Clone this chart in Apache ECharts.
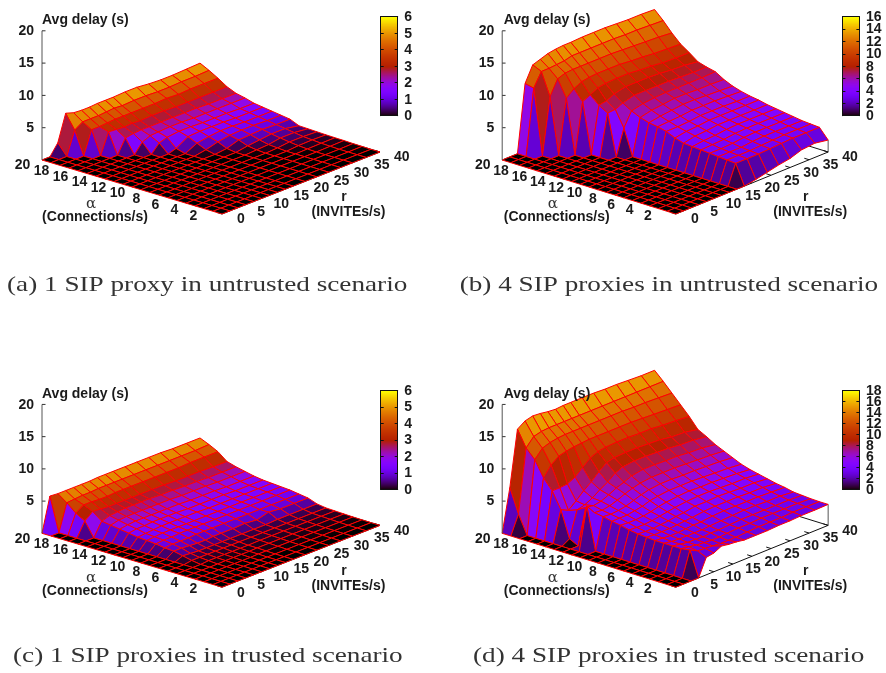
<!DOCTYPE html>
<html><head><meta charset="utf-8">
<script src="https://cdn.jsdelivr.net/npm/echarts@6/dist/echarts.min.js"></script>
<style>html,body{margin:0;padding:0;background:#fff}#c{width:886px;height:673px}</style></head>
<body><div id="c"></div>
<script>
const rValues = [0,2,4,6,8,10,12,14,16,18,21,24,27,30,33,36.5,40];
const alphaValues = [20,19,18,17,16,15,14,13,12,11,10,9,8,7,6,5,4,3,2,1,0];
// rows follow alphaValues; columns follow rValues
const surfaceA = [
[0,0,1.7,5.8,5.4,5.3,5.3,5.4,5.4,5.4,5.5,5.5,5.3,5.2,5.2,5.3,5.4],
[0,0,0,3.6,4.4,4.4,4.4,4.5,4.6,4.5,4.6,4.6,4.5,4.5,4.6,4.6,4.7],
[0,0,0,0,3.6,3.6,3.7,3.8,3.8,3.8,3.8,3.8,3.9,3.8,3.9,3.9,3.9],
[0,0,0,0,0,3.2,3.1,3.0,3.1,3.0,3.1,3.1,3.0,3.0,3.0,3.0,3.0],
[0,0,0,0,0,0,2.2,2.4,2.5,2.5,2.5,2.5,2.5,2.5,2.4,2.4,2.4],
[0,0,0,0,0,0,0,1.5,2.0,2.1,2.2,2.2,2.1,2.1,2.1,2.1,2.1],
[0,0,0,0,0,0,0,0,1.3,1.7,1.9,1.9,1.8,1.8,1.8,1.7,1.7],
[0,0,0,0,0,0,0,0,0,.4,1.5,1.6,1.6,1.6,1.5,1.5,1.5],
[0,0,0,0,0,0,0,0,0,0,.9,1.2,1.4,1.4,1.3,1.3,1.3],
[0,0,0,0,0,0,0,0,0,0,.3,.8,1.1,1.2,1.2,1.1,1.1],
[0,0,0,0,0,0,0,0,0,0,0,.2,.8,.9,1.0,.9,.9],
[0,0,0,0,0,0,0,0,0,0,0,0,.3,.5,.7,.7,.3],
[0,0,0,0,0,0,0,0,0,0,0,0,.1,.2,.5,.5,.25],
[0,0,0,0,0,0,0,0,0,0,0,0,0,.1,.3,.3,.2],
[0,0,0,0,0,0,0,0,0,0,0,0,0,0,.15,.2,.15],
[0,0,0,0,0,0,0,0,0,0,0,0,0,0,.05,.1,.12],
[0,0,0,0,0,0,0,0,0,0,0,0,0,0,0,.05,.1],
[0,0,0,0,0,0,0,0,0,0,0,0,0,0,0,0,.05],
[0,0,0,0,0,0,0,0,0,0,0,0,0,0,0,0,.03],
[0,0,0,0,0,0,0,0,0,0,0,0,0,0,0,0,0],
[0,0,0,0,0,0,0,0,0,0,0,0,0,0,0,0,0]];
const surfaceB = [
[0,0,0,10.4,12.8,13.2,13.6,13.8,13.9,13.9,14,14,14,13.9,13.8,13.8,13.7],
[0,0,0,10.1,12.2,12.2,12.3,12.4,12.7,12.7,12.7,12.7,12.7,12.6,12.6,12.5,12.4],
[0,0,0,0,8.7,11,11.4,11.5,11.5,11.5,11.5,11.5,11.4,11.3,11.2,11.1,10.9],
[0,0,0,0,0,8.4,9.4,10,10.2,10.3,10.3,10.3,10.1,10,9.8,9.7,9.6],
[0,0,0,0,0,0,7.8,8.4,9,9.2,9.3,9.3,9.1,9,8.8,8.7,8.7],
[0,0,0,0,0,0,0,7.2,7.4,8,8.4,8.4,8.4,8.3,8.1,8,7.7],
[0,0,0,0,0,0,0,6.4,6.5,7,7.5,7.5,7.5,7.5,7.4,7.3,7.3],
[0,0,0,0,0,0,0,0,4.0,6.2,6.6,6.8,6.9,6.9,6.9,6.9,7],
[0,0,0,0,0,0,0,0,0,5.6,6,6.2,6.4,6.4,6.3,6.3,6.2],
[0,0,0,0,0,0,0,0,0,5.2,5.5,5.7,5.9,5.9,5.8,5.7,5.6],
[0,0,0,0,0,0,0,0,0,5.0,5.1,5.2,5.4,5.4,5.4,5.3,5.2],
[0,0,0,0,0,0,0,0,0,4.7,4.7,4.8,5,5,5,4.9,4.9],
[0,0,0,0,0,0,0,0,0,4.1,4.4,4.5,4.7,4.7,4.7,4.7,4.7],
[0,0,0,0,0,0,0,0,0,3.7,4.1,4.2,4.4,4.4,4.4,4.4,4.4],
[0,0,0,0,0,0,0,0,0,3.6,3.8,3.9,4.1,4.2,4.2,4.2,4.2],
[0,0,0,0,0,0,0,0,0,3.5,3.6,3.7,3.9,4,4,4,4],
[0,0,0,0,0,0,0,0,0,3.4,3.4,3.5,3.7,3.8,3.8,3.8,3.8],
[0,0,0,0,0,0,0,0,0,3.3,3.3,3.3,3.5,3.6,3.6,3.6,3.6],
[0,0,0,0,0,0,0,0,0,3.2,3.2,3.2,3.3,3.4,3.5,3.5,3.5],
[0,0,0,0,0,0,0,0,0,3.1,3.1,3.1,3.2,3.3,3.4,3.4,3.4],
[0,0,0,0,0,0,0,0,0,0,.3,.7,1.1,1.4,2.0,2.2,1.85]];
const surfaceC = [
[0,5.3,5.2,5.2,5.2,5.2,5.2,5.3,5.3,5.3,5.3,5.3,5.3,5.3,5.2,5.2,5.2],
[0,0,4.2,4.3,4.4,4.4,4.5,4.5,4.5,4.5,4.5,4.5,4.5,4.5,4.5,4.5,4.6],
[0,0,3.0,3.8,3.8,3.7,3.7,3.8,3.8,3.8,3.8,3.8,3.8,3.8,3.9,3.9,3.9],
[0,0,2.2,3.2,3.1,3.0,3.0,3.0,3.0,3.0,3.0,3.0,2.9,2.9,2.9,2.8,2.8],
[0,0,0,2.1,2.5,2.6,2.7,2.7,2.7,2.7,2.6,2.6,2.5,2.5,2.4,2.4,2.4],
[0,0,0,1.9,2.2,2.3,2.3,2.3,2.3,2.3,2.3,2.2,2.2,2.2,2.1,2.1,2.1],
[0,0,0,1.7,1.9,2,2,2,2,2,2,1.9,1.9,1.9,1.8,1.8,1.8],
[0,0,0,1.5,1.7,1.7,1.8,1.8,1.8,1.8,1.7,1.7,1.7,1.7,1.6,1.6,1.6],
[0,0,0,1.3,1.4,1.5,1.6,1.6,1.6,1.6,1.6,1.5,1.5,1.5,1.5,1.5,1.5],
[0,0,0,1.2,1.3,1.4,1.4,1.4,1.4,1.4,1.4,1.4,1.4,1.4,1.4,1.4,1.4],
[0,0,0,1.1,1.2,1.2,1.3,1.3,1.3,1.3,1.3,1.3,1.3,1.3,1.3,1.3,1.3],
[0,0,0,.9,1,1,1,1.1,1.1,1.1,1.1,1.1,1.1,1.1,1.1,1.1,1.1],
[0,0,0,.8,.8,.7,.6,.6,.7,.7,.7,.8,.6,1.1,.9,.9,.9],
[0,0,0,.5,.4,.3,.3,.3,.3,.3,.3,.3,.3,.4,.4,.4,.4],
[0,0,0,.2,.2,.2,.2,.2,.2,.2,.2,.2,.2,.2,.2,.2,.2],
[0,0,0,0,.1,.1,.1,.1,.1,.1,.15,.15,.15,.15,.15,.15,.15],
[0,0,0,0,0,.05,.05,.05,.05,.1,.1,.1,.1,.1,.1,.1,.1],
[0,0,0,0,0,0,0,0,.05,.05,.05,.05,.05,.05,.05,.05,.05],
[0,0,0,0,0,0,0,0,0,0,0,.02,.02,.02,.02,.02,.02],
[0,0,0,0,0,0,0,0,0,0,0,0,0,0,0,0,0],
[0,0,0,0,0,0,0,0,0,0,0,0,0,0,0,0,0]];
const surfaceD = [
[0,6.6,15.2,16,16.3,16.2,16,15.9,16,16,16,16,15.9,15.9,15.8,15.7,15.7],
[0,2.9,12.7,14,14.3,14.4,14.4,14.4,14.4,14.4,14.4,14.4,14.4,14.4,14.4,14.4,14.4],
[0,0,11.3,12.6,13,13.2,13.3,13.3,13.3,13.3,13.3,13.3,13.3,13.2,13.2,13.1,13],
[0,0,8.9,10.4,11.3,11.6,11.8,11.9,12,12,12,12,12,11.9,11.8,11.7,11.6],
[0,0,7.3,7.3,7.4,8,9,10,10.5,10.7,10.8,10.8,10.7,10.7,10.5,10.4,10.2],
[0,0,4.8,4.2,5.2,6.3,7.2,8.3,9.2,9.5,9.6,9.6,9.5,9.4,9.1,9,8.6],
[0,0,.7,4.7,5,5.6,6.4,7.1,8,8.5,8.7,8.7,8.6,8.5,8.3,8.2,7.9],
[0,0,0,5.5,5.3,5.5,6,6.6,7,7.5,7.8,7.8,7.7,7.7,7.5,7.4,7.1],
[0,0,6.6,5.1,5,5.2,5.6,6.1,6.5,6.8,7,7,7,6.9,6.8,6.7,6.5],
[0,0,0,4.9,4.8,4.9,5.1,5.5,5.9,6.2,6.4,6.4,6.3,6.3,6.2,6.1,5.9],
[0,0,0,4.6,4.6,4.6,4.8,5,5.4,5.6,5.8,5.8,5.8,5.7,5.6,5.5,5.3],
[0,0,0,4.4,4.3,4.3,4.4,4.6,4.9,5.1,5.3,5.4,5.3,5.3,5.2,5.1,4.9],
[0,0,0,4.1,4,4,4.1,4.3,4.5,4.7,4.9,5,5,4.9,4.8,4.8,4.6],
[0,0,0,3.9,3.8,3.8,3.9,4,4.2,4.3,4.6,4.6,4.7,4.6,4.5,4.5,4.3],
[0,0,0,3.8,3.7,3.7,3.7,3.8,3.9,4,4.2,4.3,4.3,4.3,4.2,4.2,4],
[0,0,0,3.7,3.6,3.5,3.5,3.6,3.7,3.7,3.9,4,4,4,4,3.9,3.8],
[0,0,0,3.7,3.5,3.4,3.4,3.4,3.4,3.5,3.6,3.7,3.8,3.8,3.7,3.7,3.5],
[0,0,0,3.7,3.5,3.3,3.3,3.2,3.3,3.3,3.4,3.5,3.5,3.5,3.5,3.5,3.4],
[0,0,0,3.7,3.5,3.3,3.2,3.1,3.1,3.2,3.3,3.3,3.4,3.4,3.4,3.4,3.3],
[0,0,0,3.9,3.3,3.2,3.1,3,3,3,3.1,3.2,3.2,3.2,3.3,3.3,3.25],
[0,0,0,0,2.7,2.9,3.5,3.3,3.2,3,3,3,3.1,3.1,3.2,3.2,3.25]];

const zTicks = [5,10,15,20];
const alphaTicks = [2,4,6,8,10,12,14,16,18,20];
const rTicks = [0,5,10,15,20,25,30,35,40];
const colorTicksA = [0,1,2,3,4,5,6];
const colorTicksB = [0,2,4,6,8,10,12,14,16];
const colorTicksC = [0,1,2,3,4,5,6];
const colorTicksD = [0,2,4,6,8,10,12,14,16,18];
const colorTicks = [colorTicksA,colorTicksB,colorTicksC,colorTicksD];
const colorMax = [6,16,6,18];
const colorStep = [1,2,1,2];
const captions = [
 '(a) 1 SIP proxy in untrusted scenario',
 '(b) 4 SIP proxies in untrusted scenario',
 '(c) 1 SIP proxies in trusted scenario',
 '(d) 4 SIP proxies in trusted scenario'];
const captionX = [7,459.7,13,473];
const surfaces = [surfaceA,surfaceB,surfaceC,surfaceD];

const offX = [0,461.7,0,461.7], offY = [0,0,373.7,373.7];
const BOLD = 'bold 14px "Liberation Sans", Arial, sans-serif';
const TXT = '#1a1a1a';

function project(alpha, r, z){
  return [222 - 9*alpha + 3.95*r, 214 - 2.7*alpha - 1.55*r - 6.46*z];
}
function palette(x){
  x = Math.max(0, Math.min(1, x));
  const R = Math.sqrt(x), G = x*x*x, B = Math.max(0, Math.sin(2*Math.PI*x));
  return 'rgb(' + Math.round(R*255) + ',' + Math.round(G*255) + ',' + Math.round(B*255) + ')';
}
const depth = (alpha, r) => 2.7*alpha + 1.55*r;

const grid = [], xAxis = [], yAxis = [], series = [], graphic = [];

surfaces.forEach((surface, p) => {
  const gi = grid.length;
  const nRow = alphaValues.length, nCol = rValues.length;
  grid.push({left: offX[p], top: offY[p], width: 440, height: 300, show: false});
  xAxis.push({type:'value', gridIndex: gi, min:0, max:440, show:false});
  yAxis.push({type:'value', gridIndex: gi, min:0, max:300, inverse:true, show:false});
  const ax = {xAxisIndex: xAxis.length-1, yAxisIndex: yAxis.length-1};
  const line = (api, a, b, stroke, w) => {
    const A = api.coord(a), B = api.coord(b);
    return {type:'line', shape:{x1:A[0],y1:A[1],x2:B[0],y2:B[1]}, style:{stroke, lineWidth:w||1}};
  };
  const corner = surface[nRow-1][nCol-1];

  // floor box and r ticks, behind the surface
  series.push(Object.assign({type:'custom', silent:true, animation:false, clip:false, z:2,
    data: rTicks.map(v=>[v]),
    renderItem(params, api){
      const r = api.value(0), ch = [line(api, project(0,r,0), project(0.55,r,0), '#111')];
      if (params.dataIndex === 0) {
        ch.push(line(api, project(0,0,0), project(0,40,0), '#111'));
        ch.push(line(api, project(0,40,0), project(20,40,0), '#111'));
        ch.push(line(api, project(20,40,0), project(20,0,0), '#111'));
        ch.push(line(api, project(0,40,0), project(0,40,corner), '#555'));
      }
      return {type:'group', children: ch};
    }}, ax));

  // surface quads, far to near
  const cells = [];
  for (let i=0;i<nRow-1;i++) for (let j=0;j<nCol-1;j++) {
    cells.push([i, j, surface[i][j], surface[i][j+1], surface[i+1][j+1], surface[i+1][j]]);
  }
  const cellDepth = c => depth((alphaValues[c[0]]+alphaValues[c[0]+1])/2, (rValues[c[1]]+rValues[c[1]+1])/2);
  cells.sort((a,b)=> cellDepth(b) - cellDepth(a));
  series.push(Object.assign({type:'custom', silent:true, animation:false, clip:false, z:3, progressive:0,
    data: cells,
    renderItem(params, api){
      const i=api.value(0), j=api.value(1);
      const zs=[api.value(2),api.value(3),api.value(4),api.value(5)];
      const cs=[[i,j],[i,j+1],[i+1,j+1],[i+1,j]];
      const pts=cs.map((c,k)=>api.coord(project(alphaValues[c[0]],rValues[c[1]],zs[k])));
      const mean=(zs[0]+zs[1]+zs[2]+zs[3])/4;
      return {type:'polygon', shape:{points:pts},
        style:{fill:palette(mean/colorMax[p]), stroke:'#ff0000', lineWidth:1, lineJoin:'round'}};
    }}, ax));

  // z axis
  series.push(Object.assign({type:'custom', silent:true, animation:false, clip:false, z:4,
    data: zTicks.map(v=>[v]),
    renderItem(params, api){
      const v=api.value(0), P=api.coord(project(20,0,v));
      const ch=[
        line(api, project(20,0,v), [project(20,0,v)[0]+3.5, project(20,0,v)[1]], '#333'),
        {type:'text', style:{text:String(v), x:P[0]-8, y:P[1]+.5, align:'right', verticalAlign:'middle', font:BOLD, fill:TXT}}
      ];
      if (params.dataIndex===0) ch.push(line(api, project(20,0,0), project(20,0,20), '#555'));
      return {type:'group', children:ch};
    }}, ax));
  // alpha labels
  series.push(Object.assign({type:'custom', silent:true, animation:false, clip:false, z:4,
    data: alphaTicks.map(v=>[v]),
    renderItem(params, api){
      const v=api.value(0), P=api.coord(project(v,0,0));
      return {type:'text', style:{text:String(v), x:P[0]-9.5-v*0.5, y:P[1]+7.5-v*0.1, align:'center', verticalAlign:'middle', font:BOLD, fill:TXT}};
    }}, ax));
  // r labels
  series.push(Object.assign({type:'custom', silent:true, animation:false, clip:false, z:4,
    data: rTicks.map(v=>[v]),
    renderItem(params, api){
      const v=api.value(0), P=api.coord(project(0,v,0));
      return {type:'text', style:{text:String(v), x:P[0]+19+v*0.07, y:P[1]+5.5, align:'center', verticalAlign:'middle', font:BOLD, fill:TXT}};
    }}, ax));

  // axis names and caption
  const T=(text,x,y,align,font,fill)=>graphic.push({type:'text', x:x+offX[p], y:y+offY[p],
    style:{text, align, verticalAlign:'middle', font:font||BOLD, fill:fill||TXT}, z:6});
  T('Avg delay (s)', 42, 20, 'left');
  T('\u03b1', 91, 204, 'center', '15px "DejaVu Serif", serif', '#333');
  T('(Connections/s)', 95, 217.5, 'center');
  T('r', 344, 197, 'center');
  T('(INVITEs/s)', 348.5, 212, 'center');
  graphic.push({type:'text', x:captionX[p], y:p<2?285:656.7, scaleX:1.295, z:6,
    style:{text:captions[p], align:'left', verticalAlign:'middle', font:'21px "Liberation Serif", serif', fill:'#333'}});

  // colour box
  const gc = grid.length, top=16.7+offY[p], left=380.7+offX[p];
  grid.push({left, top, width:17, height:99, show:false});
  const xb = xAxis.length;
  const ln = {show:true, lineStyle:{color:'#111', width:1}};
  [ 'bottom','top' ].forEach(pos=>xAxis.push({type:'value', gridIndex:gc, position:pos, min:0, max:1, z:10,
     axisLine:Object.assign({onZero:false},ln), axisTick:{show:false}, axisLabel:{show:false}, splitLine:{show:false}}));
  const yb = yAxis.length;
  yAxis.push({type:'value', gridIndex:gc, position:'right', min:0, max:colorMax[p], interval:colorStep[p], z:10,
     axisLine:Object.assign({onZero:false},ln), axisTick:{show:true, inside:true, length:3, lineStyle:{color:'#111'}},
     axisLabel:{show:false}, splitLine:{show:false}});
  yAxis.push({type:'value', gridIndex:gc, position:'left', min:0, max:colorMax[p], interval:colorStep[p], z:10,
     axisLine:Object.assign({onZero:false},ln), axisTick:{show:true, inside:true, length:3, lineStyle:{color:'#111'}},
     axisLabel:{show:false}, splitLine:{show:false}});
  const steps = 99, ramp = [];
  for (let k=0;k<steps;k++) ramp.push([k/steps*colorMax[p], (k+1)/steps*colorMax[p]]);
  series.push({type:'custom', silent:true, animation:false, clip:true, z:3, xAxisIndex:xb, yAxisIndex:yb, data:ramp,
    renderItem(params, api){
      const a=api.coord([0,api.value(0)]), b=api.coord([1,api.value(1)]);
      return {type:'rect', shape:{x:a[0], y:b[1], width:b[0]-a[0], height:a[1]-b[1]+.6},
        style:{fill:palette((api.value(0)+api.value(1))/2/colorMax[p])}};
    }});
  // colour box labels (they crowd and overlap, as in the source figure)
  series.push({type:'custom', silent:true, animation:false, clip:false, z:6, xAxisIndex:xb, yAxisIndex:yb,
    data: colorTicks[p].map(v=>[1,v]),
    renderItem(params, api){
      const P=api.coord([1,api.value(1)]);
      return {type:'text', style:{text:String(api.value(1)), x:P[0]+6.5, y:P[1]+.5, align:'left', verticalAlign:'middle', font:BOLD, fill:TXT}};
    }});
});

const chart = echarts.init(document.getElementById('c'), null, {renderer:'canvas'});
chart.setOption({animation:false, backgroundColor:'#fff', grid, xAxis, yAxis, series, graphic, tooltip:{show:false}});
</script>
</body></html>
